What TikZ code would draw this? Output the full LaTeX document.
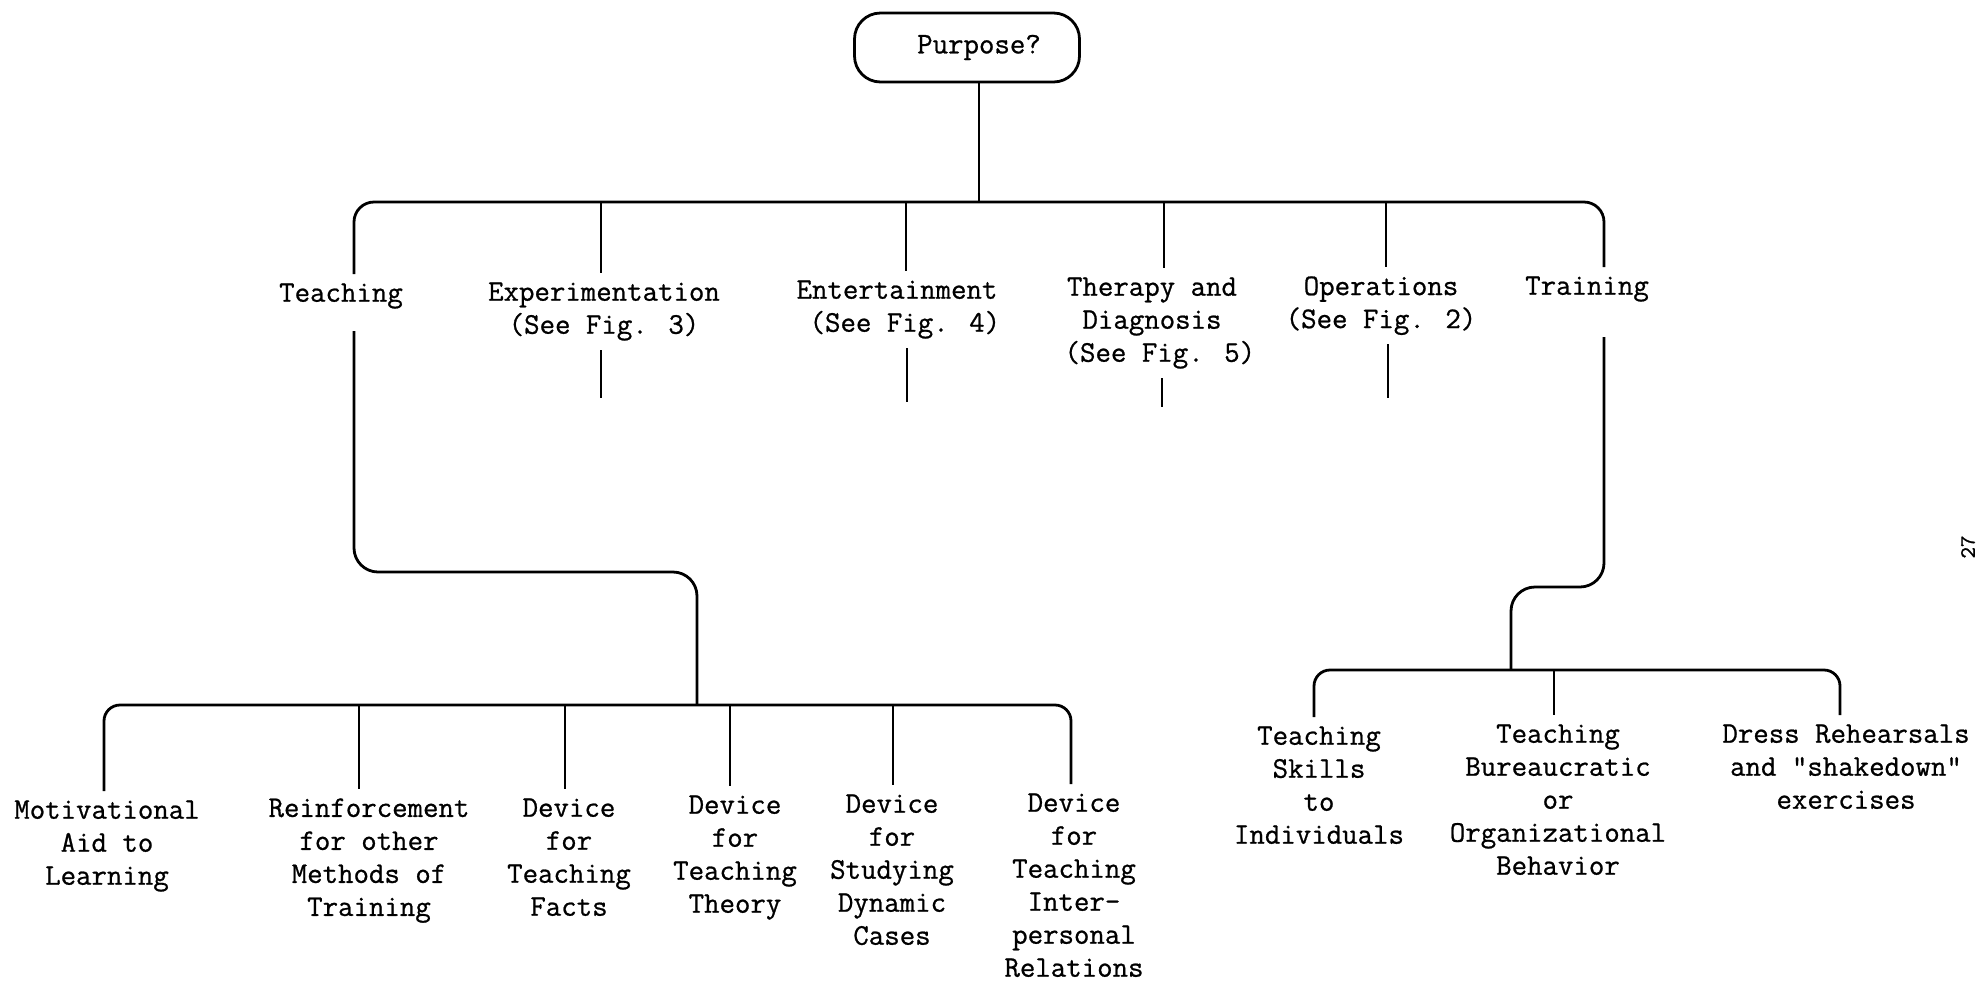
\documentclass[tikz,border=0pt]{standalone}
\usepackage{fontspec}
\newfontfamily\twfont{Latin Modern Mono}[FakeBold=0.8]
\begin{document}
\begin{tikzpicture}[x=0.5pt,y=-0.5pt,line width=1.4pt,
  lbl/.style={font=\twfont\fontsize{15}{16.5}\selectfont,align=center,inner xsep=0pt,inner ysep=4pt,anchor=north},
  pbox/.style={draw,rounded corners=13pt,minimum width=112.5pt,minimum height=34.5pt,inner sep=0pt,font=\twfont\fontsize{15}{16.5}\selectfont},
  link/.style={line width=1.4pt}]
\useasboundingbox (0,0) rectangle (1981,981);

% top box
\node[pbox] (purpose) at (967,47.5) {\hspace*{12pt}Purpose?};
\coordinate (top) at (979,202);
\draw[link] ([xshift=6pt]purpose.south) -- (top);

% level-1 junctions
\coordinate (jT) at (354,202);
\coordinate (jE) at (601,202);
\coordinate (jN) at (906,202);
\coordinate (jH) at (1164,202);
\coordinate (jO) at (1386,202);
\coordinate (jR) at (1604,202);

% level-1 labels
\node[lbl] (teach) at (341,274) {Teaching};
\node[lbl] (exp) at (604,273) {Experimentation\\(See Fig. 3)};
\node[lbl] (ent) at (897,271) {Entertainment\\\hspace*{0.525em}(See Fig. 4)};
\node[lbl] (ther) at (1152,268) {Therapy and\\Diagnosis\\\hspace*{0.525em}(See Fig. 5)};
\node[lbl] (oper) at (1381,267) {Operations\\(See Fig. 2)};
\node[lbl] (train) at (1587,267) {Training};

\draw[link,rounded corners=10pt] (jT |- teach.north) -- (jT) -- (jR) -- (jR |- train.north);
\draw[link] (jE) -- (jE |- exp.north);
\draw[link] (jN) -- (jN |- ent.north);
\draw[link] (jH) -- (jH |- ther.north);
\draw[link] (jO) -- (jO |- oper.north);

% stubs
\coordinate (sE) at (601,398);
\coordinate (sN) at (907,402);
\coordinate (sH) at (1162,407);
\coordinate (sO) at (1388,398);
\draw[link] (sE |- exp.south) -- (sE);
\draw[link] (sN |- ent.south) -- (sN);
\draw[link] (sH |- ther.south) -- (sH);
\draw[link] (sO |- oper.south) -- (sO);

% teaching branch
\coordinate (tk1) at (354,572);
\coordinate (tk2) at (697,572);
\coordinate (tb) at (697,705);
\draw[link,rounded corners=12pt] ([yshift=-6.5pt]teach.south -| jT) -- (tk1) -- (tk2) -- (tb);

% training branch
\coordinate (rk1) at (1604,587);
\coordinate (rk2) at (1511,587);
\coordinate (rb) at (1511,670);
\draw[link,rounded corners=12pt] ([yshift=-13pt]train.south -| jR) -- (rk1) -- (rk2) -- (rb);

% left level-2 labels
\node[lbl] (mot) at (107,791) {Motivational\\Aid to\\Learning};
\node[lbl] (rein) at (369,789) {Reinforcement\\for other\\Methods of\\Training};
\node[lbl] (facts) at (569,789) {Device\\for\\Teaching\\Facts};
\node[lbl] (theory) at (735,786) {Device\\for\\Teaching\\Theory};
\node[lbl] (dyn) at (892,785) {Device\\for\\Studying\\Dynamic\\Cases};
\node[lbl] (inter) at (1074,784) {Device\\for\\Teaching\\Inter-\\personal\\Relations};

\coordinate (aL) at (104,705);
\coordinate (a2) at (359,705);
\coordinate (a3) at (565,705);
\coordinate (a4) at (730,705);
\coordinate (a5) at (893,705);
\coordinate (aR) at (1071,705);
\draw[link,rounded corners=8pt] (aL |- mot.north) -- (aL) -- (aR) -- (aR |- inter.north);
\draw[link] (a2) -- (a2 |- rein.north);
\draw[link] (a3) -- (a3 |- facts.north);
\draw[link] (a4) -- (a4 |- theory.north);
\draw[link] (a5) -- (a5 |- dyn.north);

% right level-2 labels
\node[lbl] (skills) at (1319,717) {Teaching\\Skills\\to\\Individuals};
\node[lbl] (bur) at (1558,715) {Teaching\\Bureaucratic\\or\\Organizational\\Behavior};
\node[lbl] (dress) at (1846,715) {Dress Rehearsals\\and "shakedown"\\exercises};

\coordinate (bL) at (1314,670);
\coordinate (bB) at (1554,670);
\coordinate (bR) at (1840,670);
\draw[link,rounded corners=8pt] (bL |- skills.north) -- (bL) -- (bR) -- (bR |- dress.north);
\draw[link] (bB) -- (bB |- bur.north);

% page number
\node[rotate=90,font=\twfont\fontsize{11}{11}\selectfont,inner sep=0pt] (pg) at (1968,547) {27};
\end{tikzpicture}
\end{document}
